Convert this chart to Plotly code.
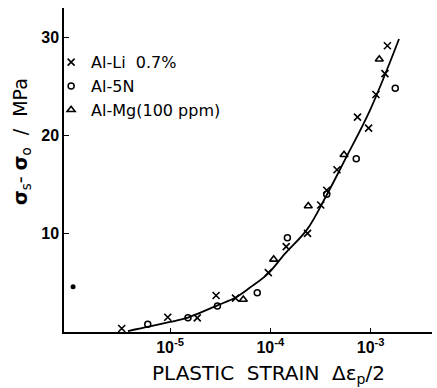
import plotly.graph_objects as go

# Al-Li 0.7 % (crosses)
alli_x = [3.3e-6, 9.5e-6, 1.87e-5, 2.88e-5, 4.5e-5, 9.55e-5, 1.44e-4, 2.35e-4,
          3.18e-4, 3.65e-4, 4.62e-4, 7.4e-4, 9.55e-4, 1.13e-3, 1.39e-3, 1.47e-3]
alli_y = [0.36, 1.50, 1.44, 3.71, 3.45, 6.04, 8.68, 10.03,
          12.91, 14.42, 16.50, 21.85, 20.73, 24.15, 26.27, 29.11]

# Al-5N (open circles)
al5n_x = [6.0e-6, 1.51e-5, 2.97e-5, 7.41e-5, 1.48e-4, 3.65e-4, 7.19e-4, 1.76e-3]
al5n_y = [0.79, 1.44, 2.64, 3.98, 9.59, 14.01, 17.63, 24.79]

# Al-Mg (100 ppm) (open triangles)
almg_x = [5.38e-5, 1.08e-4, 2.39e-4, 5.43e-4, 1.22e-3]
almg_y = [3.30, 7.39, 12.81, 18.02, 27.74]

# fitted curve
curve_x = [3.81e-6, 6.3e-6, 1.0e-5, 1.51e-5, 2.94e-5, 4.5e-5, 6.28e-5, 9.5e-5,
           1.40e-4, 2.32e-4, 3.66e-4, 5.54e-4, 9.9e-4, 1.92e-3]
curve_y = [0.1, 0.56, 1.02, 1.47, 2.69, 3.5, 4.52, 5.94,
           7.97, 10.41, 13.96, 17.51, 22.6, 29.8]

# stray mark near the axis
stray_x = [1.08e-6]
stray_y = [4.59]

x_tickvals = [1e-5, 1e-4, 1e-3]
x_ticktext = ["10<sup>-5</sup>", "10<sup>-4</sup>", "10<sup>-3</sup>"]
y_tickvals = [10, 20, 30]
y_ticktext = ["10", "20", "30"]

x_title = "PLASTIC  STRAIN  Δε<sub>p</sub>/2"
y_title = "<b>σ</b><sub>s</sub>- <b>σ</b><sub>o</sub>  /  MPa"

fig = go.Figure()

fig.add_trace(go.Scatter(x=curve_x, y=curve_y, mode="lines", line=dict(color="black", width=1.8, shape="spline"),
                         showlegend=False, hoverinfo="skip"))
fig.add_trace(go.Scatter(x=alli_x, y=alli_y, mode="markers", name="Al-Li  0.7%",
                         marker=dict(symbol="x-thin-open", size=7, color="black", line=dict(color="black", width=1.6))))
fig.add_trace(go.Scatter(x=al5n_x, y=al5n_y, mode="markers", name="Al-5N",
                         marker=dict(symbol="circle-open", size=6, color="black", line=dict(color="black", width=1.5))))
fig.add_trace(go.Scatter(x=almg_x, y=almg_y, mode="markers", name="Al-Mg(100 ppm)",
                         marker=dict(symbol="triangle-up-open", size=7, color="black", line=dict(color="black", width=1.6))))
fig.add_trace(go.Scatter(x=stray_x, y=stray_y, mode="markers", showlegend=False, hoverinfo="skip",
                         marker=dict(symbol="circle", size=5, color="black")))

fig.update_layout(
    width=437, height=388,
    margin=dict(l=64, r=5, t=8, b=56),
    paper_bgcolor="white", plot_bgcolor="white",
    font=dict(family="DejaVu Sans", color="black"),
    showlegend=True,
    legend=dict(x=-0.035, y=0.885, xanchor="left", yanchor="top",
                font=dict(family="DejaVu Sans", size=16, color="black"),
                bgcolor="rgba(0,0,0,0)", itemwidth=30, tracegroupgap=0),
    xaxis=dict(type="log", range=[-6.057, -2.388], automargin=False,
               tickvals=x_tickvals, ticktext=x_ticktext,
               ticks="inside", ticklen=4, tickwidth=1.2, tickcolor="black",
               tickfont=dict(family="Liberation Sans", size=16, color="black", weight="bold"),
               showline=True, linecolor="black", linewidth=1.5,
               showgrid=False, zeroline=False, mirror=False),
    yaxis=dict(range=[0, 32.95], automargin=False,
               tickvals=y_tickvals, ticktext=y_ticktext,
               ticks="inside", ticklen=5, tickwidth=1.2, tickcolor="black",
               tickfont=dict(family="Liberation Sans", size=16, color="black", weight="bold"),
               showline=True, linecolor="black", linewidth=1.5,
               showgrid=False, zeroline=False, mirror=False),
    annotations=[
        dict(text=x_title, xref="paper", yref="paper", x=(268 - 64) / 368, y=-(374 - 332) / 324,
             xanchor="center", yanchor="middle", showarrow=False,
             font=dict(family="DejaVu Sans", size=20, color="black")),
        dict(text=y_title, xref="paper", yref="paper", x=-(64 - 22) / 368, y=(332 - 142) / 324,
             xanchor="center", yanchor="middle", showarrow=False, textangle=-90,
             font=dict(family="DejaVu Sans", size=19, color="black")),
    ],
)

fig.write_html("out.html", config={"displayModeBar": False},
               post_script="document.body.style.margin='0';document.body.style.overflow='hidden';")
